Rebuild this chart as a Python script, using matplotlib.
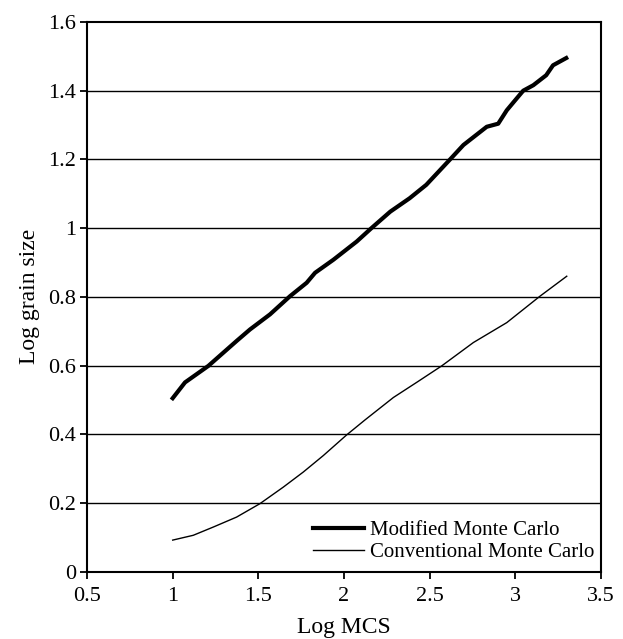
import matplotlib
matplotlib.use("Agg")
import matplotlib.pyplot as plt

# ---------- Data ----------
mod_x = [1.0, 1.072, 1.208, 1.374, 1.451, 1.568, 1.685, 1.782, 1.831, 1.938, 2.074,
         2.16, 2.27, 2.383, 2.48, 2.619, 2.697, 2.833, 2.90, 2.95, 3.007, 3.046,
         3.105, 3.18, 3.22, 3.297]
mod_y = [0.505, 0.551, 0.599, 0.672, 0.705, 0.749, 0.802, 0.841, 0.870, 0.908, 0.961,
         1.000, 1.048, 1.087, 1.126, 1.200, 1.242, 1.295, 1.304, 1.343, 1.377, 1.400,
         1.416, 1.445, 1.474, 1.495]

conv_x = [1.0, 1.12, 1.237, 1.373, 1.509, 1.645, 1.762, 1.879, 2.015, 2.123, 2.288,
          2.43, 2.57, 2.755, 2.95, 3.144, 3.30]
conv_y = [0.092, 0.106, 0.130, 0.159, 0.198, 0.246, 0.290, 0.338, 0.398, 0.442, 0.507,
          0.553, 0.599, 0.667, 0.725, 0.802, 0.860]

x_ticks = [0.5, 1, 1.5, 2, 2.5, 3, 3.5]
x_labels = ["0.5", "1", "1.5", "2", "2.5", "3", "3.5"]
y_ticks = [0, 0.2, 0.4, 0.6, 0.8, 1.0, 1.2, 1.4, 1.6]
y_labels = ["0", "0.2", "0.4", "0.6", "0.8", "1", "1.2", "1.4", "1.6"]

plt.rcParams["font.family"] = ["Liberation Serif", "DejaVu Serif"]

fig = plt.figure(figsize=(6.23, 6.39), dpi=100)
ax = fig.add_axes([0.1397, 0.1053, 0.825, 0.8603])

# horizontal grid lines
for yv in y_ticks[1:-1]:
    ax.axhline(yv, color="black", lw=1.0, zorder=1)

ax.plot(mod_x, mod_y, color="black", lw=3.0, label="Modified Monte Carlo",
        solid_joinstyle="round", zorder=3)
ax.plot(conv_x, conv_y, color="black", lw=1.0, label="Conventional Monte Carlo",
        solid_joinstyle="round", zorder=3)

ax.set_xlim(0.5, 3.5)
ax.set_ylim(0, 1.6)
ax.set_xticks(x_ticks)
ax.set_xticklabels(x_labels)
ax.set_yticks(y_ticks)
ax.set_yticklabels(y_labels)
ax.tick_params(direction="out", length=5, width=1.3, labelsize=16, color="black")
ax.tick_params(axis="x", pad=6)
ax.tick_params(axis="y", pad=3)

for sp in ax.spines.values():
    sp.set_linewidth(1.5)
    sp.set_color("black")

ax.set_xlabel("Log MCS", fontsize=17, labelpad=8)
ax.set_ylabel("Log grain size", fontsize=17, labelpad=6)

leg = ax.legend(loc="lower right", frameon=False, fontsize=15, handlelength=2.45,
                handletextpad=0.3, labelspacing=0.1, borderaxespad=0.0,
                borderpad=0.2, bbox_to_anchor=(0.995, 0.01))

fig.savefig("out.png", dpi=100)
